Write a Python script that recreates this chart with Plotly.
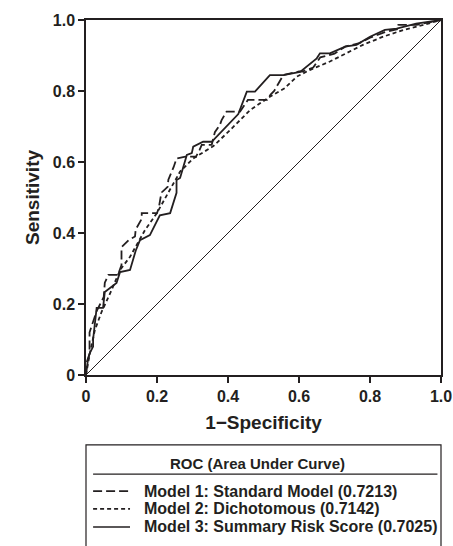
#
# ROC curves for the three risk models
#

import plotly.graph_objects as go

ink = "#231f20"
font_family = "Liberation Sans, Arial, Helvetica, sans-serif"

# Model 1 : standard model (long dash)
m1_fpr = [0, 0, 0.01, 0.01, 0.02, 0.03, 0.04, 0.05, 0.053, 0.063,
          0.09, 0.1, 0.1, 0.12, 0.138, 0.14, 0.157, 0.157, 0.2, 0.205,
          0.21, 0.214, 0.23, 0.232, 0.247, 0.255, 0.28, 0.31, 0.32, 0.326,
          0.354, 0.363, 0.377, 0.382, 0.396, 0.434, 0.456, 0.51, 0.52, 0.53,
          0.556, 0.6, 0.61, 0.64, 0.66, 0.7, 0.73, 0.77, 0.8, 0.84,
          0.88, 0.88, 0.93, 1.0]
m1_tpr = [0, 0.03, 0.06, 0.12, 0.15, 0.18, 0.2, 0.22, 0.26, 0.282,
          0.282, 0.31, 0.36, 0.38, 0.39, 0.41, 0.44, 0.456, 0.456, 0.47,
          0.5, 0.515, 0.53, 0.55, 0.586, 0.61, 0.615, 0.615, 0.634, 0.648,
          0.648, 0.684, 0.704, 0.718, 0.742, 0.742, 0.775, 0.775, 0.79, 0.8,
          0.845, 0.855, 0.855, 0.866, 0.895, 0.905, 0.925, 0.935, 0.95, 0.965,
          0.975, 0.986, 0.986, 1.0]

# Model 2 : dichotomous (short dash)
m2_fpr = [0, 0.005, 0.011, 0.025, 0.044, 0.072, 0.096, 0.124, 0.166, 0.199,
          0.223, 0.265, 0.302, 0.359, 0.406, 0.462, 0.518, 0.56, 0.593, 0.63,
          0.687, 0.734, 0.78, 0.837, 0.894, 0.95, 1.0]
m2_tpr = [0, 0.03, 0.062, 0.127, 0.178, 0.239, 0.296, 0.333, 0.408, 0.455,
          0.498, 0.573, 0.61, 0.645, 0.69, 0.746, 0.784, 0.808, 0.84, 0.859,
          0.883, 0.906, 0.93, 0.953, 0.972, 0.986, 1.0]

# Model 3 : summary risk score (solid)
m3_fpr = [0, 0.005, 0.01, 0.02, 0.02, 0.025, 0.03, 0.048, 0.053, 0.086,
          0.096, 0.124, 0.14, 0.152, 0.18, 0.208, 0.237, 0.255, 0.255, 0.265,
          0.284, 0.298, 0.302, 0.33, 0.354, 0.429, 0.453, 0.476, 0.518, 0.556,
          0.603, 0.65, 0.659, 0.687, 0.73, 0.762, 0.8, 0.842, 0.875, 0.93,
          1.0]
m3_tpr = [0, 0.04, 0.06, 0.08, 0.1, 0.15, 0.189, 0.189, 0.234, 0.259,
          0.29, 0.296, 0.35, 0.38, 0.394, 0.45, 0.456, 0.513, 0.549, 0.555,
          0.62, 0.625, 0.643, 0.657, 0.657, 0.735, 0.798, 0.798, 0.845, 0.845,
          0.854, 0.892, 0.906, 0.906, 0.925, 0.93, 0.953, 0.972, 0.976, 0.99,
          1.0]

# chance line
ref_fpr = [0, 1]
ref_tpr = [0, 1]

tick_vals = [0, 0.2, 0.4, 0.6, 0.8, 1.0]
tick_text = ["0", "0.2", "0.4", "0.6", "0.8", "1.0"]

legend_title = "ROC (Area Under Curve)"
model_names = ["Model 1: Standard Model (0.7213)",
               "Model 2: Dichotomous (0.7142)",
               "Model 3: Summary Risk Score (0.7025)"]
model_dash = ["9px,4px", "4px,3px", "solid"]

fig = go.Figure()

fig.add_trace(go.Scatter(x=ref_fpr, y=ref_tpr, mode="lines",
                         line=dict(color=ink, width=1), hoverinfo="skip"))

for xs, ys, dash, name in [(m1_fpr, m1_tpr, model_dash[0], model_names[0]),
                           (m2_fpr, m2_tpr, model_dash[1], model_names[1]),
                           (m3_fpr, m3_tpr, model_dash[2], model_names[2])]:
    fig.add_trace(go.Scatter(x=xs, y=ys, mode="lines", name=name,
                             line=dict(color=ink, width=1.8, dash=dash)))

# hand made legend box under the plot (open at the bottom like the source)
shapes = [
    dict(type="rect", xref="paper", yref="paper", x0=0, x1=1, y0=-0.56, y1=-0.197,
         line=dict(color=ink, width=1.2), fillcolor="rgba(0,0,0,0)"),
    dict(type="line", xref="paper", yref="paper", x0=0.02, x1=0.99, y0=-0.279, y1=-0.279,
         line=dict(color=ink, width=1.2)),
]
annotations = [
    dict(text=legend_title, xref="paper", yref="paper", x=0.482, y=-0.248,
         showarrow=False, xanchor="center", yanchor="middle",
         font=dict(family=font_family, size=15, color=ink, weight="bold")),
]
row_y = [-0.327, -0.377, -0.428]
for i in range(3):
    shapes.append(dict(type="line", xref="paper", yref="paper", x0=0.02, x1=0.124,
                       y0=row_y[i], y1=row_y[i],
                       line=dict(color=ink, width=1.6, dash=model_dash[i])))
    annotations.append(dict(text=model_names[i], xref="paper", yref="paper",
                            x=0.158, y=row_y[i], showarrow=False,
                            xanchor="left", yanchor="middle",
                            font=dict(family=font_family, size=16, color=ink, weight="bold")))

axis_common = dict(range=[0, 1], showline=True, linecolor=ink, linewidth=1.5, mirror=True,
                   ticks="outside", ticklen=6, tickwidth=1.5, tickcolor=ink,
                   tickvals=tick_vals, ticktext=tick_text, showgrid=False, zeroline=False,
                   automargin=False,
                   tickfont=dict(family=font_family, size=16, color=ink, weight="bold"))

fig.update_layout(
    width=453, height=546,
    margin=dict(l=86, r=12, t=20, b=171),
    paper_bgcolor="white", plot_bgcolor="white",
    showlegend=False,
    shapes=shapes, annotations=annotations,
    xaxis=dict(axis_common, title=dict(text="1\u2212Specificity", standoff=12,
               font=dict(family=font_family, size=19, color=ink, weight="bold"))),
    yaxis=dict(axis_common, title=dict(text="Sensitivity", standoff=8,
               font=dict(family=font_family, size=19, color=ink, weight="bold"))),
)

# drop the default 8px page margin so the figure sits at the window corner
fig.write_html("out.html",
               config={"displayModeBar": False},
               post_script="document.body.style.margin='0';"
                           "document.body.style.overflow='hidden';")
